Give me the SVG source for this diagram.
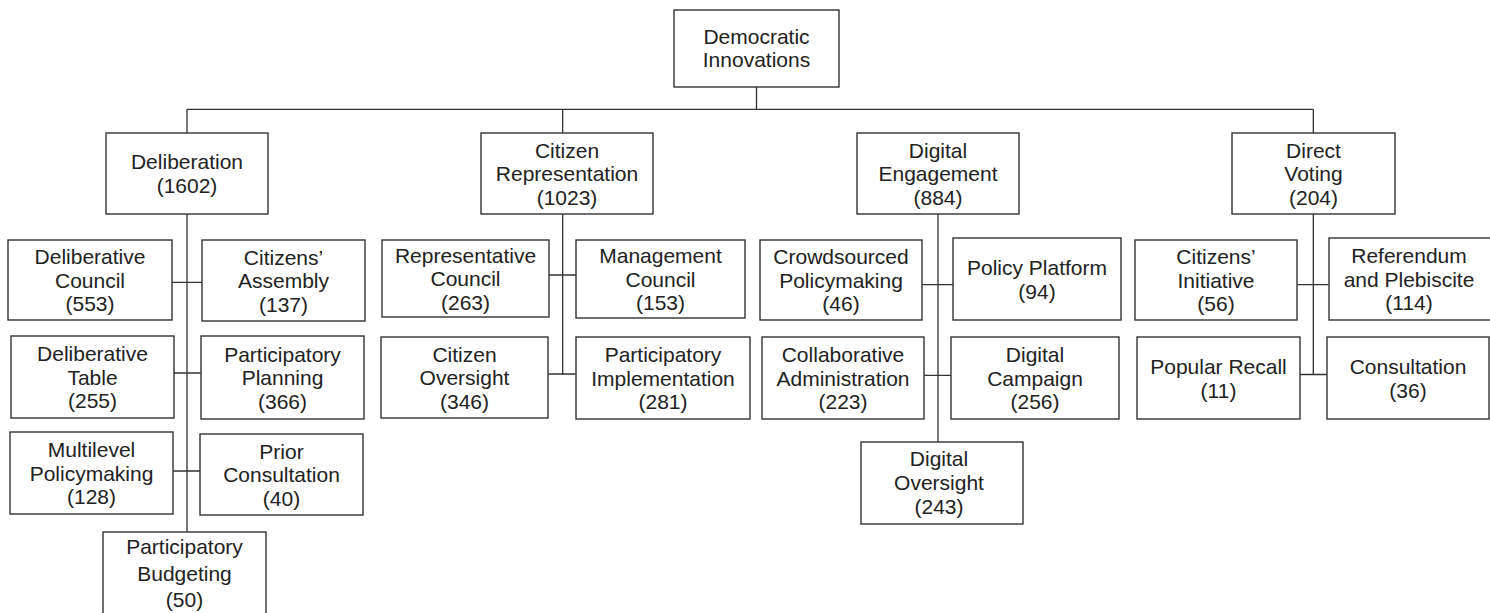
<svg xmlns="http://www.w3.org/2000/svg" width="1490" height="613" viewBox="0 0 1490 613">
<style>
.box{fill:#fff;stroke:#333;stroke-width:1.4}
.t{font-family:"Liberation Sans",Arial,sans-serif;font-size:21px;fill:#222;text-anchor:middle}
.c{fill:none;stroke:#333;stroke-width:1.3}
</style>
<rect width="1490" height="613" fill="#fff"/>
<g id="connectors" class="c">
<path d="M756.5 87V109.3M187 109.3H1313.3M187 109.3V133M562.7 109.3V133M1313.3 109.3V133"/>
<path d="M187 214V532M171.7 282.3H202.3M173.7 373H200.7M173 471H200"/>
<path d="M562.7 214V375M549 275H576.3M548.3 374H575.7"/>
<path d="M938 214V442M922.3 284.7H953.3M924.3 375.3H951.3"/>
<path d="M1313.3 214V374.5M1297.3 284.7H1328.7M1300 374.5H1327"/>
</g>
<g id="root"><rect class="box" x="674" y="10" width="165" height="77"/><text class="t" x="756.5" y="44">Democratic</text><text class="t" x="756.5" y="67">Innovations</text></g>
<g id="deliberation"><rect class="box" x="106" y="133" width="162" height="81"/><text class="t" x="187" y="169">Deliberation</text><text class="t" x="187" y="192.5">(1602)</text></g>
<g id="citizen-representation"><rect class="box" x="481" y="133" width="172" height="81"/><text class="t" x="567" y="157.5">Citizen</text><text class="t" x="567" y="181">Representation</text><text class="t" x="567" y="204.5">(1023)</text></g>
<g id="digital-engagement"><rect class="box" x="857" y="133" width="162" height="81"/><text class="t" x="938" y="157.5">Digital</text><text class="t" x="938" y="181">Engagement</text><text class="t" x="938" y="204.5">(884)</text></g>
<g id="direct-voting"><rect class="box" x="1232" y="133" width="163" height="81"/><text class="t" x="1313.5" y="157.5">Direct</text><text class="t" x="1313.5" y="181">Voting</text><text class="t" x="1313.5" y="204.5">(204)</text></g>

<g id="deliberative-council"><rect class="box" x="8" y="240" width="164" height="80"/><text class="t" x="90" y="264">Deliberative</text><text class="t" x="90" y="287.5">Council</text><text class="t" x="90" y="311">(553)</text></g>
<g id="citizens-assembly"><rect class="box" x="202" y="240" width="163" height="81"/><text class="t" x="283.5" y="264.5">Citizens’</text><text class="t" x="283.5" y="288">Assembly</text><text class="t" x="283.5" y="311.5">(137)</text></g>
<g id="deliberative-table"><rect class="box" x="11" y="336" width="163" height="82"/><text class="t" x="92.5" y="361">Deliberative</text><text class="t" x="92.5" y="384.5">Table</text><text class="t" x="92.5" y="408">(255)</text></g>
<g id="participatory-planning"><rect class="box" x="201" y="336" width="163" height="83"/><text class="t" x="282.5" y="361.5">Participatory</text><text class="t" x="282.5" y="385">Planning</text><text class="t" x="282.5" y="408.5">(366)</text></g>
<g id="multilevel-policymaking"><rect class="box" x="10" y="432" width="163" height="82"/><text class="t" x="91.5" y="457">Multilevel</text><text class="t" x="91.5" y="480.5">Policymaking</text><text class="t" x="91.5" y="504">(128)</text></g>
<g id="prior-consultation"><rect class="box" x="200" y="434" width="163" height="81"/><text class="t" x="281.5" y="458.5">Prior</text><text class="t" x="281.5" y="482">Consultation</text><text class="t" x="281.5" y="505.5">(40)</text></g>
<g id="participatory-budgeting"><rect class="box" x="103" y="532" width="163" height="90"/><text class="t" x="184.5" y="554">Participatory</text><text class="t" x="184.5" y="581">Budgeting</text><text class="t" x="184.5" y="607">(50)</text></g>

<g id="representative-council"><rect class="box" x="382" y="240" width="167" height="77"/><text class="t" x="465.5" y="262.5">Representative</text><text class="t" x="465.5" y="286">Council</text><text class="t" x="465.5" y="309.5">(263)</text></g>
<g id="management-council"><rect class="box" x="576" y="240" width="169" height="78"/><text class="t" x="660.5" y="263">Management</text><text class="t" x="660.5" y="286.5">Council</text><text class="t" x="660.5" y="310">(153)</text></g>
<g id="citizen-oversight"><rect class="box" x="381" y="337" width="167" height="81"/><text class="t" x="464.5" y="361.5">Citizen</text><text class="t" x="464.5" y="385">Oversight</text><text class="t" x="464.5" y="408.5">(346)</text></g>
<g id="participatory-implementation"><rect class="box" x="576" y="337" width="174" height="82"/><text class="t" x="663" y="362">Participatory</text><text class="t" x="663" y="385.5">Implementation</text><text class="t" x="663" y="409">(281)</text></g>

<g id="crowdsourced-policymaking"><rect class="box" x="760" y="240" width="162" height="80"/><text class="t" x="841" y="264">Crowdsourced</text><text class="t" x="841" y="287.5">Policymaking</text><text class="t" x="841" y="311">(46)</text></g>
<g id="policy-platform"><rect class="box" x="953" y="238" width="168" height="82"/><text class="t" x="1037" y="275">Policy Platform</text><text class="t" x="1037" y="298.5">(94)</text></g>
<g id="collaborative-administration"><rect class="box" x="762" y="337" width="162" height="82"/><text class="t" x="843" y="362">Collaborative</text><text class="t" x="843" y="385.5">Administration</text><text class="t" x="843" y="409">(223)</text></g>
<g id="digital-campaign"><rect class="box" x="951" y="337" width="168" height="82"/><text class="t" x="1035" y="362">Digital</text><text class="t" x="1035" y="385.5">Campaign</text><text class="t" x="1035" y="409">(256)</text></g>
<g id="digital-oversight"><rect class="box" x="861" y="442" width="162" height="82"/><text class="t" x="939" y="466">Digital</text><text class="t" x="939" y="490">Oversight</text><text class="t" x="939" y="514">(243)</text></g>

<g id="citizens-initiative"><rect class="box" x="1135" y="240" width="162" height="80"/><text class="t" x="1216" y="264">Citizens’</text><text class="t" x="1216" y="287.5">Initiative</text><text class="t" x="1216" y="311">(56)</text></g>
<g id="referendum-plebiscite"><rect class="box" x="1329" y="238" width="165" height="82"/><text class="t" x="1409" y="263">Referendum</text><text class="t" x="1409" y="286.5">and Plebiscite</text><text class="t" x="1409" y="310">(114)</text></g>
<g id="popular-recall"><rect class="box" x="1137" y="337" width="163" height="82"/><text class="t" x="1218.5" y="374">Popular Recall</text><text class="t" x="1218.5" y="397.5">(11)</text></g>
<g id="consultation"><rect class="box" x="1327" y="337" width="162" height="82"/><text class="t" x="1408" y="374">Consultation</text><text class="t" x="1408" y="397.5">(36)</text></g>
</svg>
